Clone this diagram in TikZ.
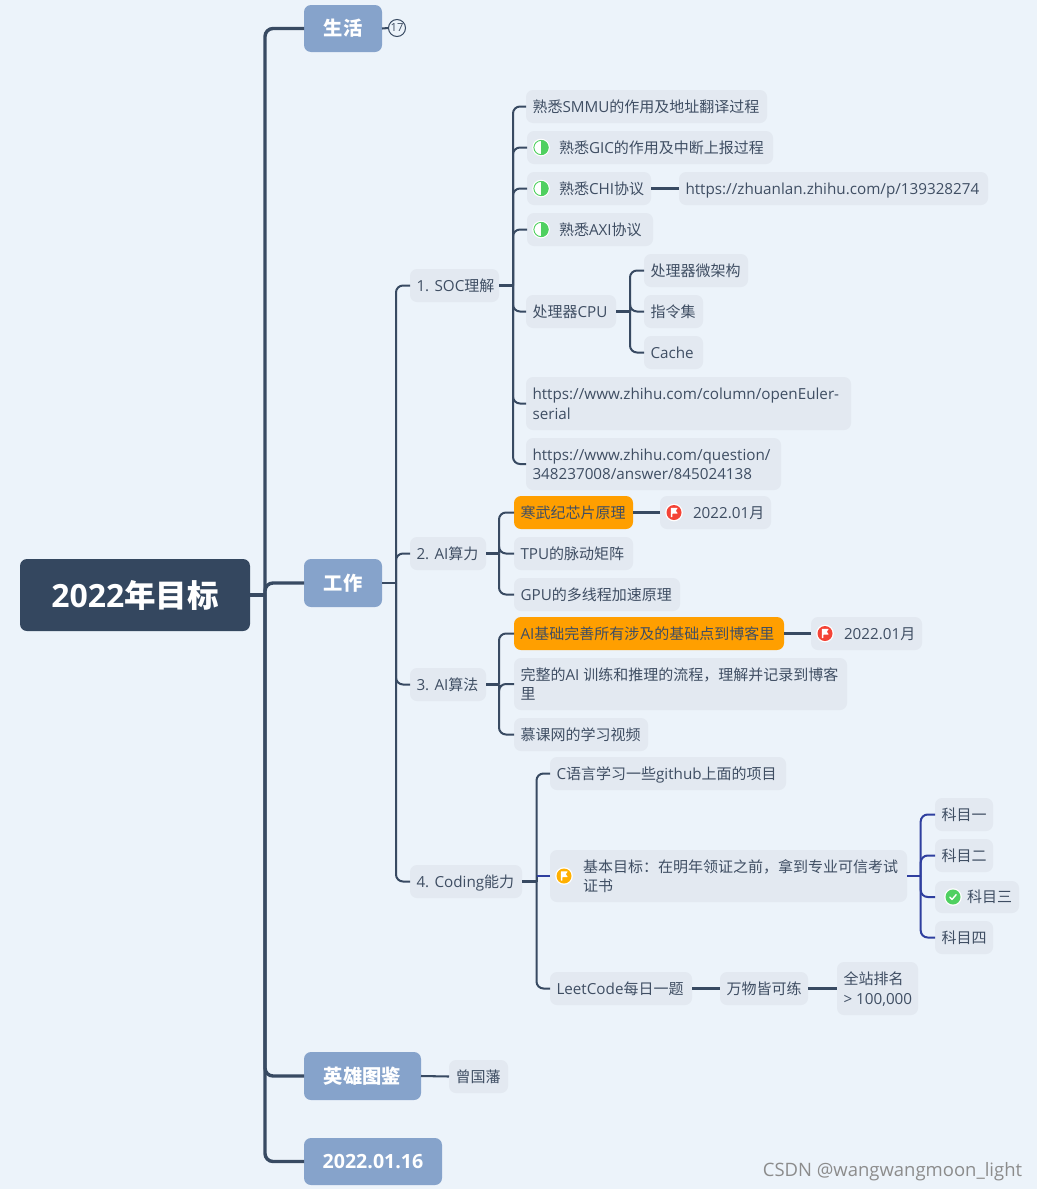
\documentclass[tikz,border=0pt]{standalone}
\usepackage{fontspec}
\setmainfont[Scale=1.015]{Open Sans}
\newfontfamily\cjk{Noto Sans CJK SC}
\newcommand\zh[1]{{\cjk #1}}
\usetikzlibrary{calc}
\definecolor{bgc}{HTML}{ECF3FA}
\definecolor{rootc}{HTML}{34475F}
\definecolor{mainc}{HTML}{86A3CB}
\definecolor{subc}{HTML}{E3E9F1}
\definecolor{orc}{HTML}{FF9F00}
\definecolor{txt}{HTML}{3F4E63}
\definecolor{linec}{HTML}{384A62}
\definecolor{bluec}{HTML}{2F3F9F}
\definecolor{greenc}{HTML}{4FD060}
\definecolor{redc}{HTML}{F44336}
\definecolor{yelc}{HTML}{FFB000}
\tikzset{
  base/.style={rectangle,rounded corners=7pt,inner sep=0pt,outer sep=0pt},
  sub/.style={base,fill=subc,text=txt},
  hot/.style={base,fill=orc,text=txt},
  mainbox/.style={base,fill=mainc,text=white,font=\fontsize{19.3}{23}\selectfont\bfseries},
  rootbox/.style={base,fill=rootc,text=white,font=\fontsize{31.5}{36}\selectfont\bfseries},
  stem/.style={draw=linec,line width=2.8pt},
  br/.style={draw=linec,line width=2pt,rounded corners=7pt},
  bstem/.style={draw=bluec,line width=2.8pt},
  bbr/.style={draw=bluec,line width=2pt,rounded corners=7pt},
  thick1/.style={draw=linec,line width=3.4pt,rounded corners=8pt},
  link/.style={draw=linec,line width=2.05pt},
}
% [text pad]{style}{name}{x1}{y1}{x2}{y2}{text}
\newcommand\nd[7][6.5]{%
  \pgfmathsetmacro\cx{(#4+#6)/2}\pgfmathsetmacro\cy{(#5+#7)/2}%
  \pgfmathsetmacro\nw{#6-#4}\pgfmathsetmacro\nh{#7-#5}%
  \ndb{#1}{#2}{#3}}
\newcommand\ndb[4]{%
  \node[#2,minimum width=\nw pt,minimum height=\nh pt,font=\fontsize{15}{19.5}\selectfont] (#3) at (\cx,\cy)
   {\makebox[\nw pt][l]{\hspace*{#1pt}\raisebox{0pt}[\dimexpr\height+4pt\relax][\depth]{\begin{tabular}{@{}l@{}}#4\end{tabular}}}};}
\newcommand\mn[7]{%
  \pgfmathsetmacro\cx{(#3+#5)/2}\pgfmathsetmacro\cy{(#4+#6)/2}%
  \pgfmathsetmacro\nw{#5-#3}\pgfmathsetmacro\nh{#6-#4}%
  \node[#1,minimum width=\nw pt,minimum height=\nh pt] (#2) at (\cx,\cy) {#7};}
\newcommand\tree[3]{%
  \coordinate (Tx) at (#2,0);\coordinate (T) at (Tx |- #1.east);
  \draw[stem] (#1.east) -- (T);
  \foreach \c in {#3} {\draw[br] (T) |- (\c.west);}}
\newcommand\halfic[1]{\begin{scope}[shift={(#1.west)}]
  \fill[white] (14,0) circle (8.8);
  \draw[greenc,line width=.9pt] (14,0) circle (7.1);
  \fill[greenc] (14,-7.5) arc (-90:90:7.5) -- cycle;
\end{scope}}
\newcommand\flagic[2]{\begin{scope}[shift={(#1.west)}]
  \fill[white] (14,0) circle (8.8);
  \fill[#2] (14,0) circle (7.5);
  \fill[white,rounded corners=.5pt] (10.8,-4.6) -- (17.8,-4.6) -- (15.8,-1.8) -- (17.8,1) -- (12.4,1) -- (12.4,4.6) -- (10.8,4.6) -- cycle;
\end{scope}}
\newcommand\okic[1]{\begin{scope}[shift={(#1.west)}]
  \fill[white] (18,0) circle (8.8);
  \fill[greenc] (18,0) circle (7.5);
  \draw[white,line width=1.4pt,line cap=round,line join=round] (14.8,0.2) -- (17,2.5) -- (21.2,-2.4);
\end{scope}}
\begin{document}
\begin{tikzpicture}[x=1pt,y=-1pt]
\useasboundingbox[fill=bgc] (0,0) rectangle (1037,1189);

\mn{rootbox}{root}{20}{559}{250}{631}{2022\zh{年目标}}
\mn{mainbox}{life}{304}{5}{382}{52}{\zh{生活}}
\mn{mainbox}{work}{304}{559}{382}{607}{\zh{工作}}
\mn{mainbox}{hero}{304}{1052}{421}{1100}{\zh{英雄图鉴}}
\mn{mainbox}{date}{304}{1138}{442}{1185}{2022.01.16}
\node[circle,draw=linec,line width=1pt,minimum size=17pt,inner sep=0pt,outer sep=0pt,text=txt,font=\fontsize{11}{13}\selectfont] (cnt) at (397,28) {17};

\nd{sub}{soc}{410}{269}{499}{302}{1. SOC\zh{理解}}
\nd{sub}{aip}{410}{537}{486}{570}{2. AI\zh{算力}}
\nd{sub}{aia}{410}{668}{486}{701}{3. AI\zh{算法}}
\nd{sub}{cod}{410}{865}{522}{898}{4. Coding\zh{能力}}

\nd{sub}{smmu}{526}{90}{767}{123}{\zh{熟悉}SMMU\zh{的作用及地址翻译过程}}
\nd[32]{sub}{gic}{527}{131}{773}{164}{\zh{熟悉}GIC\zh{的作用及中断上报过程}}
\nd[32]{sub}{chi}{527}{172}{651}{205}{\zh{熟悉}CHI\zh{协议}}
\nd{sub}{zhuan}{679}{172}{988}{205}{https://zhuanlan.zhihu.com/p/139328274}
\nd[32]{sub}{axi}{527}{213}{653}{246}{\zh{熟悉}AXI\zh{协议}}
\nd{sub}{cpu}{526}{295}{616}{328}{\zh{处理器}CPU}
\nd{sub}{march}{644}{254}{748}{287}{\zh{处理器微架构}}
\nd{sub}{isa}{644}{295}{703}{328}{\zh{指令集}}
\nd{sub}{cache}{644}{336}{703}{369}{Cache}
\nd{sub}{euler}{526}{377}{851}{430}{https://www.zhihu.com/column/openEuler-\\serial}
\nd{sub}{quest}{526}{438}{781}{490}{https://www.zhihu.com/question/\\348237008/answer/845024138}

\nd{hot}{hanwu}{514}{496}{633}{529}{\zh{寒武纪芯片原理}}
\nd[33]{sub}{da}{660}{496}{771}{529}{2022.01\zh{月}}
\nd{sub}{tpu}{514}{537}{633}{570}{TPU\zh{的脉动矩阵}}
\nd{sub}{gpu}{514}{578}{680}{611}{GPU\zh{的多线程加速原理}}

\nd{hot}{aib}{514}{617}{784}{650}{AI\zh{基础完善所有涉及的基础点到博客里}}
\nd[33]{sub}{db}{811}{617}{922}{650}{2022.01\zh{月}}
\nd{sub}{full}{514}{658}{847}{710}{\zh{完整的}AI \zh{训练和推理的流程，理解并记录到博客}\\\zh{里}}
\nd{sub}{muke}{514}{718}{648}{751}{\zh{慕课网的学习视频}}

\nd{sub}{cl}{550}{757}{786}{790}{C\zh{语言学习一些}github\zh{上面的项目}}
\nd[33]{sub}{goal}{550}{850}{907}{902}{\zh{基本目标：在明年领证之前，拿到专业可信考试}\\\zh{证书}}
\nd{sub}{leet}{550}{972}{692}{1005}{LeetCode\zh{每日一题}}
\nd{sub}{wan}{720}{972}{808}{1005}{\zh{万物皆可练}}
\nd{sub}{rank}{837}{962}{918}{1015}{\zh{全站排名}\\> 100,000}
\nd{sub}{k1}{935}{798}{993}{831}{\zh{科目一}}
\nd{sub}{k2}{935}{839}{993}{872}{\zh{科目二}}
\nd[32]{sub}{k3}{935}{881}{1019}{913}{\zh{科目三}}
\nd{sub}{k4}{935}{921}{993}{954}{\zh{科目四}}
\nd{sub}{zeng}{449}{1060}{508}{1093}{\zh{曾国藩}}

% root trunk
\coordinate (Rx) at (265,0);\coordinate (RT) at (Rx |- root.east);
\draw[draw=linec,line width=3.4pt] (root.east) -- (RT);
\foreach \c in {life,work,hero,date} {\draw[thick1] (RT) |- (\c.west);}
\draw[link] (life.east) -- (cnt.west);
\draw[link] (hero.east) -- (zeng.west);

\tree{work}{396}{soc,aip,aia,cod}
\tree{soc}{513}{smmu,gic,chi,axi,cpu,euler,quest}
\tree{cpu}{630}{march,isa,cache}
\tree{aip}{499}{hanwu,tpu,gpu}
\tree{aia}{499}{aib,full,muke}
\tree{cod}{536.5}{cl,leet}
\coordinate (Cx) at (536.5,0);\coordinate (CT) at (Cx |- goal.west);
\draw[draw=linec,line width=2pt] (cod.east -| Cx) -- (CT);
\draw[draw=bluec,line width=2pt] (CT) -- (goal.west);
\coordinate (Bx) at (920.7,0);\coordinate (BT) at (Bx |- goal.east);
\draw[bstem] (goal.east) -- (BT);
\foreach \c in {k1,k2,k3,k4} {\draw[bbr] (BT) |- (\c.west);}

\draw[link] (chi.east) -- (zhuan.west);
\draw[link] (hanwu.east) -- (da.west);
\draw[link] (aib.east) -- (db.west);
\draw[link] (leet.east) -- (wan.west);
\draw[link] (wan.east) -- (rank.west |- wan.east);

\halfic{gic}\halfic{chi}\halfic{axi}
\flagic{da}{redc}\flagic{db}{redc}\flagic{goal}{yelc}
\okic{k3}

\node[text=black!45,font=\fontsize{18.2}{22}\selectfont,inner sep=0pt] (mark) at (892.5,1171.5) {CSDN @wangwangmoon\_light};
\end{tikzpicture}
\end{document}
